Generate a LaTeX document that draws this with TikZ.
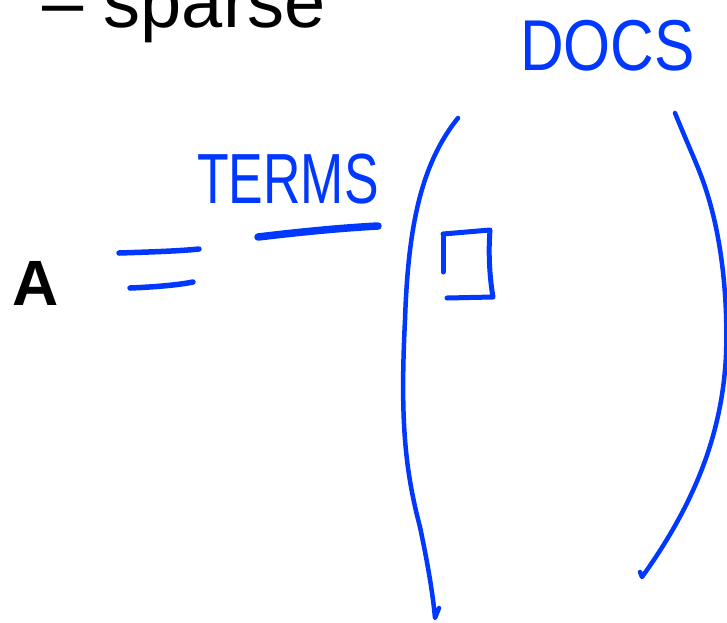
\documentclass[tikz,border=0pt]{standalone}
\usepackage{fontspec}
\setmainfont{Liberation Sans}
\definecolor{ink}{RGB}{0,56,255}
\begin{document}
\begin{tikzpicture}[x=1pt,y=-1pt,
  pen/.style={draw=ink,line width=4.5pt,line cap=round,line join=round},
  hand/.style={text=ink,inner sep=0pt,anchor=base west},
  print/.style={text=black,inner sep=0pt,anchor=base west}]
\useasboundingbox (0,0) rectangle (727,622);
% printed text
\node[print,font=\fontsize{74}{80}\selectfont] (sparse) at (42,27) {– sparse};
\node[print,font=\bfseries\fontsize{64}{70}\selectfont] (A) at (12,305) {A};
% equals sign
\draw[pen,line width=5.5pt] (119,253) .. controls (150,252) and (180,251) .. (199,249);
\draw[pen,line width=5.5pt] (130,288) .. controls (155,287) and (178,285) .. (193,282);
% TERMS label and underline
\node[hand,font=\fontsize{71}{76}\selectfont] (terms) at (197,203) {\scalebox{0.73}[1]{TERMS}};
\draw[pen,line width=7.5pt] (258,237) .. controls (300,232) and (340,228) .. (378,226);
% DOCS label
\node[hand,font=\fontsize{72}{78}\selectfont] (docs) at (520,70) {\scalebox{0.84}[1]{DOCS}};
% left parenthesis
\draw[pen] (458,118) .. controls (420,165) and (408,230) .. (405,320)
  .. controls (400,420) and (405,470) .. (420,527)
  .. controls (428,565) and (433,595) .. (435,618) -- (439,608);
% right parenthesis
\draw[pen] (675,113) .. controls (690,150) and (700,170) .. (707,193)
  .. controls (722,240) and (728,300) .. (726,355)
  .. controls (722,440) and (690,510) .. (642,577) -- (640,572);
% small square
\draw[pen,line width=5pt] (443,272) -- (443,236);
\draw[pen,line width=5pt] (443,234) -- (490,230) .. controls (488,255) and (490,280) .. (493,297) -- (447,298);
\end{tikzpicture}
\end{document}
